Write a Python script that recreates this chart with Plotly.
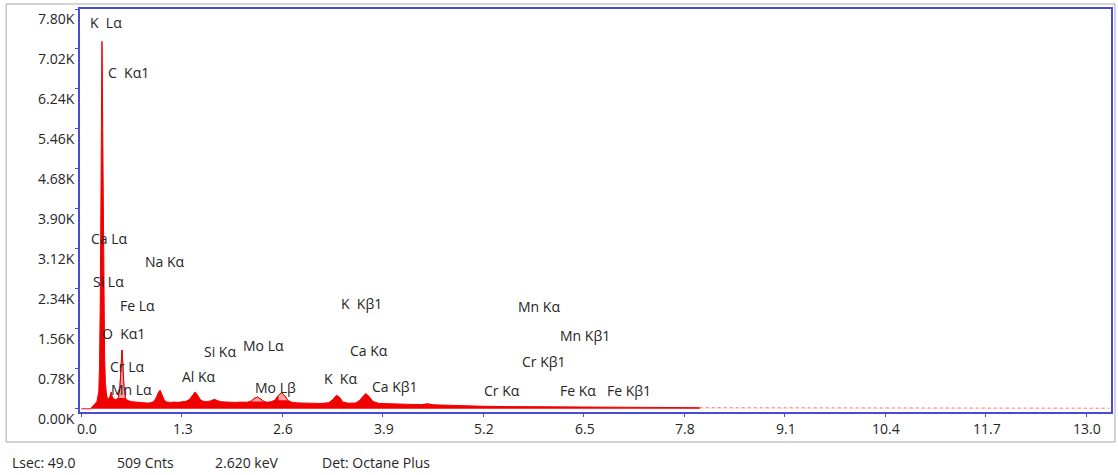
import numpy as np
import plotly.graph_objects as go

# EDS spectrum: energy (keV) and counts
energy_kev = [
    0.00, 0.12, 0.14, 0.17, 0.20, 0.225, 0.235, 0.245, 0.252, 0.258, 0.263, 0.266,
    0.270, 0.276, 0.283, 0.290, 0.300, 0.310, 0.325, 0.340, 0.360, 0.375, 0.385,
    0.395, 0.415, 0.450, 0.480, 0.500, 0.515, 0.525, 0.535, 0.550, 0.570, 0.600,
    0.650, 0.700, 0.750, 0.800, 0.850, 0.900, 0.940, 0.970, 1.000, 1.020, 1.040,
    1.070, 1.100, 1.150, 1.200, 1.250, 1.300, 1.350, 1.400, 1.440, 1.470, 1.500,
    1.540, 1.580, 1.620, 1.670, 1.720, 1.760, 1.800, 1.850, 1.900, 2.000, 2.050,
    2.100, 2.150, 2.200, 2.240, 2.280, 2.320, 2.360, 2.400, 2.450, 2.500, 2.550,
    2.590, 2.630, 2.670, 2.720, 2.800, 2.850, 2.900, 3.000, 3.100, 3.200, 3.250,
    3.300, 3.340, 3.380, 3.450, 3.550, 3.600, 3.650, 3.680, 3.720, 3.770, 3.850,
    3.950, 4.000, 4.100, 4.200, 4.300, 4.400, 4.480, 4.550, 4.700, 4.800, 5.000,
    5.200, 5.500, 5.800, 6.000, 6.400, 6.500, 6.700, 7.000, 7.500, 8.000, 8.500,
    9.000, 10.000, 11.000, 12.000, 13.000, 13.300,
]
counts = [
    0, 0, 40, 90, 140, 330, 850, 2250, 3950, 5750, 6950, 7170,
    6750, 5450, 3650, 2150, 1050, 520, 270, 190, 200, 270, 330,
    260, 190, 180, 220, 450, 850, 1145, 900, 440, 210, 160,
    140, 132, 125, 118, 112, 118, 145, 225, 335, 360, 285,
    175, 135, 125, 132, 126, 136, 145, 185, 275, 328, 275,
    175, 145, 140, 155, 185, 160, 140, 134, 128, 125, 131,
    124, 130, 155, 205, 230, 195, 145, 130, 137, 165, 265,
    309, 255, 165, 130, 116, 112, 110, 107, 104, 120, 175,
    264, 225, 135, 110, 115, 165, 255, 297, 245, 145, 105,
    98, 95, 92, 88, 85, 82, 100, 78, 70, 62, 55,
    50, 44, 40, 36, 33, 36, 30, 28, 25, 22, 21,
    20, 19, 17, 16, 14, 12,
]

# Regions of interest shaded over their peaks (keV)
roi_windows = [(0.47, 0.58), (2.20, 2.36), (2.52, 2.67)]

# Peak identification labels: (text, left edge keV, height in counts)
peak_labels = [
    ("K\u00a0 Lα", 0.085, 7527),
    ("C\u00a0 Kα1", 0.318, 6553),
    ("Ca Lα", 0.098, 3330),
    ("Na Kα", 0.796, 2881),
    ("Si Lα", 0.124, 2490),
    ("Fe Lα", 0.473, 2021),
    ("O\u00a0 Kα1", 0.240, 1475),
    ("Cr Lα", 0.344, 830),
    ("Mn Lα", 0.357, 381),
    ("Si Kα", 1.558, 1113),
    ("Mo Lα", 2.062, 1240),
    ("Al Kα", 1.274, 635),
    ("Mo Lβ", 2.217, 420),
    ("K\u00a0 Kβ1", 3.328, 2060),
    ("Ca Kα", 3.444, 1143),
    ("K\u00a0 Kα", 3.109, 596),
    ("Ca Kβ1", 3.729, 439),
    ("Mn Kα", 5.628, 2002),
    ("Mn Kβ1", 6.171, 1436),
    ("Cr Kβ1", 5.680, 928),
    ("Cr Kα", 5.189, 361),
    ("Fe Kα", 6.171, 361),
    ("Fe Kβ1", 6.778, 361),
]

x_ticks = [0.0, 1.3, 2.6, 3.9, 5.2, 6.5, 7.8, 9.1, 10.4, 11.7, 13.0]
x_tick_text = ["0.0", "1.3", "2.6", "3.9", "5.2", "6.5",
               "7.8", "9.1", "10.4", "11.7", "13.0"]
y_ticks = [0, 780, 1560, 2340, 3120, 3900, 4680, 5460, 6240, 7020, 7800]
y_tick_text = ["0.00K", "0.78K", "1.56K", "2.34K", "3.12K", "3.90K",
               "4.68K", "5.46K", "6.24K", "7.02K", "7.80K"]

footer_items = ["Lsec: 49.0", "509 Cnts", "2.620 keV", "Det: Octane Plus"]
footer_left_px = [10, 115, 213, 320]

W, H = 1118, 475
ML, MR, MT, MB = 80, 5, 9, 63
PW, PH = W - ML - MR, H - MT - MB

RED = "#f00000"
PINK = "#f6a3a3"
BLUE = "#4a4ad6"
TXT = "#262626"
FONT = "Open Sans"
FS = 14

e = np.array(energy_kev)
c = np.array(counts)
tail_start = 8.0

fig = go.Figure()

# main filled spectrum
solid = e <= tail_start
fig.add_trace(go.Scatter(
    x=e[solid], y=c[solid], mode="lines", fill="tozeroy",
    line=dict(color=RED, width=1), fillcolor=RED, hoverinfo="skip",
))
# sparse high-energy tail
tail = e >= tail_start
fig.add_trace(go.Scatter(
    x=e[tail], y=c[tail], mode="lines", fill="tozeroy",
    line=dict(color="rgba(240,0,0,0.5)", width=1, dash="dot"),
    fillcolor="rgba(240,0,0,0.08)", hoverinfo="skip",
))

# ROI shading above the local background
for lo, hi in roi_windows:
    m = (e >= lo) & (e <= hi)
    xs, ys = e[m], c[m]
    base = ys.min()
    fig.add_trace(go.Scatter(x=xs, y=np.full(len(xs), base), mode="lines",
                             line=dict(width=0), hoverinfo="skip"))
    fig.add_trace(go.Scatter(x=xs, y=ys, mode="lines", fill="tonexty",
                             fillcolor=PINK, line=dict(color=RED, width=1),
                             hoverinfo="skip"))

annotations = []
for text, xk, yc in peak_labels:
    annotations.append(dict(
        x=xk, y=yc, xref="x", yref="y", text=text, showarrow=False,
        xanchor="left", yanchor="middle",
        font=dict(family=FONT, size=FS, color=TXT),
    ))

# y tick labels hang just below their tick
for v, t in zip(y_ticks, y_tick_text):
    annotations.append(dict(
        x=0, y=v, xref="paper", yref="y", text=t, showarrow=False,
        xanchor="right", yanchor="top", xshift=-3, yshift=2,
        font=dict(family=FONT, size=FS, color=TXT),
    ))

# x tick labels; the origin label sits clear of the y axis
for v, t in zip(x_ticks, x_tick_text):
    annotations.append(dict(
        x=v, y=0, xref="x", yref="paper", text=t, showarrow=False,
        xanchor="center", yanchor="top", yshift=-5,
        xshift=6 if v == 0 else 1,
        font=dict(family=FONT, size=FS, color=TXT),
    ))

for t, px in zip(footer_items, footer_left_px):
    annotations.append(dict(
        x=(px - ML) / PW, y=(H - MB - 462) / PH, xref="paper", yref="paper",
        text=t, showarrow=False, xanchor="left", yanchor="middle",
        font=dict(family=FONT, size=FS, color=TXT),
    ))

# outer panel border
fig.add_shape(type="rect", xref="paper", yref="paper",
              x0=(6 - ML) / PW, x1=(1117 - ML) / PW,
              y0=(H - MB - 442) / PH, y1=(H - MB - 4) / PH,
              line=dict(color="#a8a8a8", width=1), layer="below")

fig.update_layout(
    width=W, height=H,
    margin=dict(l=ML, r=MR, t=MT, b=MB),
    paper_bgcolor="white", plot_bgcolor="white",
    showlegend=False,
    annotations=annotations,
    xaxis=dict(
        range=[-0.018, 13.32], tickvals=x_ticks, showticklabels=False,
        ticks="outside", ticklen=3, tickcolor=BLUE,
        showline=True, mirror=True, linecolor=BLUE, linewidth=2,
        showgrid=False, zeroline=False,
    ),
    yaxis=dict(
        range=[-62, 7800], tickvals=y_ticks, showticklabels=False,
        ticks="outside", ticklen=3, tickcolor=BLUE,
        showline=True, mirror=True, linecolor=BLUE, linewidth=2,
        showgrid=False, zeroline=False,
    ),
)

fig.write_html("out.html")
